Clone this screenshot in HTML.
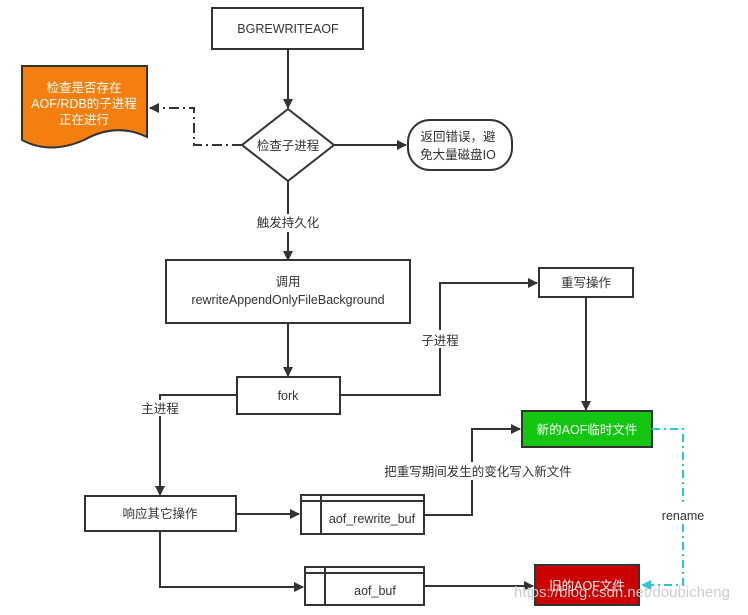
<!DOCTYPE html>
<html><head><meta charset="utf-8"><style>
html,body{margin:0;padding:0;background:#fff;}
svg text{font-family:"Liberation Sans","Noto Sans CJK SC",sans-serif;font-size:12.5px;fill:#333;}
</style></head><body>
<svg width="748" height="610" viewBox="0 0 748 610" xmlns="http://www.w3.org/2000/svg">
<defs>
<marker id="a" markerWidth="10" markerHeight="10" refX="9" refY="5" orient="auto" markerUnits="userSpaceOnUse"><path d="M0,0 L10,5 L0,10 z" fill="#333"/></marker>
<marker id="c" markerWidth="10" markerHeight="10" refX="9" refY="5" orient="auto" markerUnits="userSpaceOnUse"><path d="M0,0 L10,5 L0,10 z" fill="#2cc6cf"/></marker>
</defs>
<g stroke="#333" stroke-width="2" fill="#fff">
<rect x="212" y="8" width="151" height="41"/>
<polygon points="288,109 334,145 288,181 242,145"/>
<path d="M22,66 H147 V137 Q116,122 84,140 Q50,155 22,140 Z" fill="#f57f0e"/>
<rect x="408" y="120" width="104" height="50" rx="22"/>
<rect x="166" y="260" width="244" height="63"/>
<rect x="539" y="268" width="94" height="29"/>
<rect x="237" y="377" width="103" height="37"/>
<rect x="522" y="411" width="130" height="36" fill="#12c612"/>
<rect x="85" y="496" width="151" height="35"/>
<rect x="301" y="495" width="123" height="39"/>
<path d="M301,501 H424 M321,495 V534" fill="none"/>
<rect x="305" y="567" width="119" height="38"/>
<path d="M305,573 H424 M325,567 V605" fill="none"/>
<rect x="535" y="565" width="104" height="40" fill="#cc0000"/>
</g>
<g stroke="#333" stroke-width="2" fill="none">
<path d="M288,49 V108" marker-end="url(#a)"/>
<path d="M334,145 H406" marker-end="url(#a)"/>
<path d="M288,181 V260" marker-end="url(#a)"/>
<path d="M242,145 H194 V108 H150" stroke-dasharray="10,4,2,4" marker-end="url(#a)"/>
<path d="M288,323 V376" marker-end="url(#a)"/>
<path d="M340,395 H440 V283 H537" marker-end="url(#a)"/>
<path d="M586,297 V410" marker-end="url(#a)"/>
<path d="M237,395 H160 V495" marker-end="url(#a)"/>
<path d="M160,531 V587 H303" marker-end="url(#a)"/>
<path d="M236,514 H299" marker-end="url(#a)"/>
<path d="M424,515 H472 V429 H520" marker-end="url(#a)"/>
<path d="M424,586 H533" marker-end="url(#a)"/>
</g>
<path d="M652,429 H683 V585 H642" stroke="#2cc6cf" stroke-width="2" fill="none" stroke-dasharray="8,4,2,4" marker-end="url(#c)"/>
<rect x="140" y="400" width="40" height="16" fill="#fff"/>
<rect x="418" y="330" width="44" height="18" fill="#fff"/>
<rect x="660" y="506" width="46" height="18" fill="#fff"/>
<rect x="368" y="462" width="210" height="18" fill="#fff"/>
<rect x="250" y="214" width="76" height="18" fill="#fff"/>
<g text-anchor="middle">
<text x="288" y="33">BGREWRITEAOF</text>
<text x="288" y="150">检查子进程</text>
<text x="84" y="92" style="fill:#fff">检查是否存在</text>
<text x="84" y="108" style="fill:#fff">AOF/RDB的子进程</text>
<text x="84" y="124" style="fill:#fff">正在进行</text>
<text x="458" y="141">返回错误，避</text>
<text x="458" y="159">免大量磁盘IO</text>
<text x="288" y="227">触发持久化</text>
<text x="288" y="286">调用</text>
<text x="288" y="304">rewriteAppendOnlyFileBackground</text>
<text x="586" y="287">重写操作</text>
<text x="288" y="400">fork</text>
<text x="440" y="345">子进程</text>
<text x="160" y="413">主进程</text>
<text x="587" y="434" style="fill:#fff">新的AOF临时文件</text>
<text x="478" y="476">把重写期间发生的变化写入新文件</text>
<text x="160" y="518">响应其它操作</text>
<text x="372" y="523">aof_rewrite_buf</text>
<text x="375" y="595">aof_buf</text>
<text x="587" y="590" style="fill:#fff">旧的AOF文件</text>
<text x="683" y="520">rename</text>
<text x="622" y="597" style="fill:#ccc;font-size:15px">https://blog.csdn.net/doubicheng</text>
</g>
</svg>
</body></html>
